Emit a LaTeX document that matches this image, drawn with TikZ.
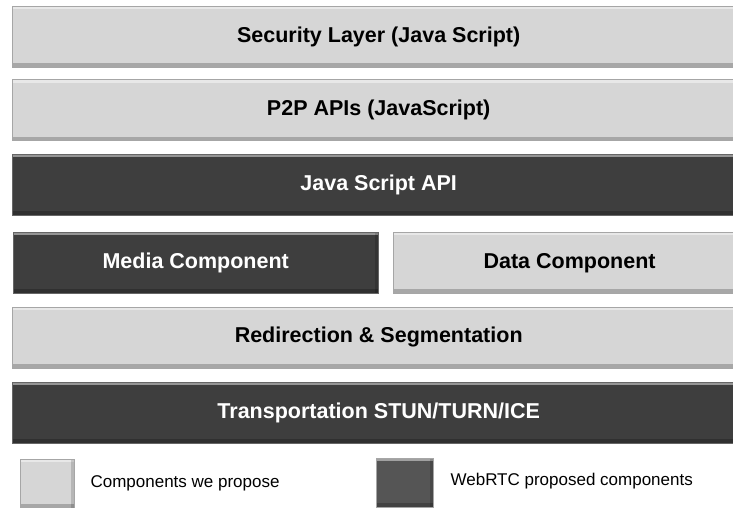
\documentclass[tikz,border=0pt]{standalone}
\usepackage{fontspec}
\setmainfont{Liberation Sans}
\usetikzlibrary{positioning}

\definecolor{lightlayer}{HTML}{D6D6D6}
\definecolor{darklayer}{HTML}{3E3E3E}
\definecolor{darkkey}{HTML}{555555}

\tikzset{
  bevel/.style={path picture={
      \fill[white, opacity=0.45] (path picture bounding box.north west) rectangle ([yshift=-3pt]path picture bounding box.north east);
      \fill[black, opacity=0.22] (path picture bounding box.south west) rectangle ([yshift=4pt]path picture bounding box.south east);
      \fill[black, opacity=0.15] (path picture bounding box.south east) rectangle ([xshift=-3pt]path picture bounding box.north east);}},
  ourlayer/.style={bevel, draw=gray!70, fill=lightlayer, minimum height=61pt, inner sep=0pt,
    font=\fontsize{21.5}{24}\selectfont\bfseries, text=black},
  rtclayer/.style={bevel, draw=gray!80!black, fill=darklayer, minimum height=61pt, inner sep=0pt,
    font=\fontsize{21.5}{24}\selectfont\bfseries, text=white},
  keybox/.style={bevel, draw=gray!70, minimum width=54pt, minimum height=49pt, inner sep=0pt},
  keytext/.style={font=\fontsize{17}{19}\selectfont, anchor=west, inner sep=0pt}
}

\begin{document}
\begin{tikzpicture}

  \useasboundingbox (0pt,0pt) rectangle (733pt,-508pt);

  % Layers (they run past the right edge)
  \node[ourlayer, minimum width=733pt, anchor=north west] (sec) at (12pt,-6pt) {Security Layer (Java Script)};
  \node[ourlayer, minimum width=733pt, below=12pt of sec] (p2p) {P2P APIs (JavaScript)};
  \node[rtclayer, minimum width=733pt, below=13pt of p2p] (jsapi) {Java Script API};

  % Split row
  \node[rtclayer, minimum width=365pt, below right=17pt and 1pt of jsapi.south west] (media) {Media Component};
  \node[ourlayer, minimum width=352pt, right=15pt of media] (data) {Data Component};

  \node[ourlayer, minimum width=733pt, below right=13pt and -1pt of media.south west] (redir) {Redirection \& Segmentation};
  \node[rtclayer, minimum width=733pt, below=14pt of redir] (trans) {Transportation STUN/TURN/ICE};

  % Legend
  \node[keybox, fill=lightlayer, anchor=north west] (keyours) at (20pt,-459pt) {};
  \node[keytext, right=16pt of keyours] (txtours) {Components we propose};
  \node[keybox, fill=darkkey, minimum width=57pt, anchor=north west] (keyrtc) at (376pt,-458pt) {};
  \node[keytext, right=17pt of keyrtc, yshift=2pt] (txtrtc) {WebRTC proposed components};

\end{tikzpicture}
\end{document}
